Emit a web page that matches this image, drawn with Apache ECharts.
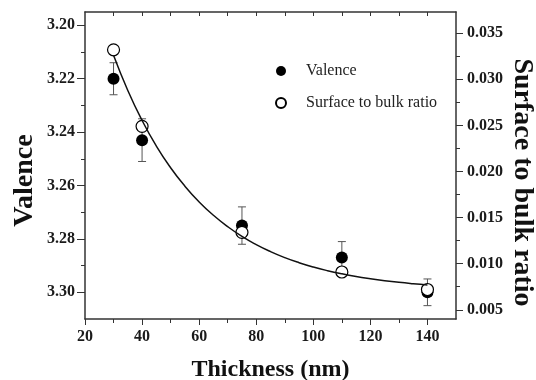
<!DOCTYPE html>
<html>
<head>
<meta charset="utf-8">
<script src="https://cdn.jsdelivr.net/npm/echarts@6/dist/echarts.min.js"></script>
<style>
  html, body { margin: 0; padding: 0; background: #fff; }
  #main { width: 536px; height: 380px; }
</style>
</head>
<body>
<div id="main"></div>
<script>
// data
var thickness = [30, 40, 75, 110, 140];
var valence = [3.220, 3.243, 3.275, 3.287, 3.300];
var valenceErr = [0.006, 0.008, 0.007, 0.006, 0.005];
var ratio = [0.0332, 0.0249, 0.0134, 0.0091, 0.0072];

// fitted curve, sampled along the drawn line
var fitX = [30, 35, 40, 45, 50, 55, 60, 65, 70, 75, 80, 85, 90, 95, 100, 105, 110, 115, 120, 125, 130, 135, 140];
var fitRatio = [0.03260, 0.02878, 0.02553, 0.02276, 0.02041, 0.01841, 0.01670, 0.01525, 0.01402, 0.01296,
                0.01207, 0.01131, 0.01066, 0.01011, 0.00964, 0.00924, 0.00890, 0.00861, 0.00837, 0.00816,
                0.00798, 0.00783, 0.00770];

// tick labels
var valenceTicks = [3.20, 3.22, 3.24, 3.26, 3.28, 3.30];
var valenceMinor = [3.21, 3.23, 3.25, 3.27, 3.29];
var ratioTicks = [0.005, 0.010, 0.015, 0.020, 0.025, 0.030, 0.035];
var ratioMinor = [0.0075, 0.0125, 0.0175, 0.0225, 0.0275, 0.0325];
var thicknessTicks = [20, 40, 60, 80, 100, 120, 140];
var thicknessMinor = [30, 50, 70, 90, 110, 130];
var topTicks = [30, 40, 50, 60, 70, 80, 90, 100, 110, 120, 130, 140];

var serif = 'Liberation Serif';
var lineCol = '#333';

var chart = echarts.init(document.getElementById('main'));

function zip(a, b) {
    return a.map(function (v, i) { return [v, b[i]]; });
}

var tickLabel = {
    fontFamily: serif, fontWeight: 'bold', fontSize: 16, color: '#1a1a1a'
};
function nameStyle(size, pad) {
    return { fontFamily: serif, fontWeight: 'bold', fontSize: size, color: '#111', padding: pad };
}

var option = {
    backgroundColor: '#fff',
    animation: false,
    grid: { left: 85, top: 12, right: 80, bottom: 61, containLabel: false, outerBoundsMode: 'none' },
    legend: {
        orient: 'vertical',
        left: 270,
        top: 58,
        itemWidth: 10,
        itemHeight: 10,
        itemGap: 16,
        selectedMode: false,
        data: [
            { name: 'Valence', icon: 'circle' },
            { name: 'Surface to bulk ratio', icon: 'circle' }
        ],
        textStyle: { fontFamily: serif, fontSize: 16, color: '#222', padding: [0, 0, 0, 15] }
    },
    xAxis: [
        {
            type: 'value', position: 'bottom', min: 20, max: 150,
            name: 'Thickness (nm)', nameLocation: 'middle', nameGap: 39, nameMoveOverlap: false,
            nameTextStyle: nameStyle(24, 0),
            axisLine: { show: true, lineStyle: { color: lineCol, width: 1.5 } },
            axisTick: { show: true, customValues: thicknessTicks, length: 6, lineStyle: { color: lineCol } },
            axisLabel: Object.assign({ customValues: thicknessTicks, margin: 10 }, tickLabel),
            splitLine: { show: false }
        },
        {
            type: 'value', position: 'bottom', min: 20, max: 150,
            axisLine: { show: false },
            axisTick: { show: true, customValues: thicknessMinor, length: 4, lineStyle: { color: lineCol } },
            axisLabel: { show: false },
            splitLine: { show: false }
        },
        {
            type: 'value', position: 'top', min: 20, max: 150,
            axisLine: { show: true, lineStyle: { color: lineCol, width: 1.5 } },
            axisTick: { show: true, inside: true, customValues: topTicks, length: 4, lineStyle: { color: lineCol } },
            axisLabel: { show: false },
            splitLine: { show: false }
        }
    ],
    yAxis: [
        {
            type: 'value', position: 'left', inverse: true, min: 3.195, max: 3.31,
            name: 'Valence', nameLocation: 'middle', nameGap: 46, nameRotate: 90, nameMoveOverlap: false,
            nameTextStyle: nameStyle(28, [0, 30, 0, 0]),
            axisLine: { show: true, lineStyle: { color: lineCol, width: 1.5 } },
            axisTick: { show: true, customValues: valenceTicks, length: 8, lineStyle: { color: lineCol } },
            axisLabel: Object.assign({
                customValues: valenceTicks, margin: 10,
                formatter: function (v) { return v.toFixed(2); }
            }, tickLabel),
            splitLine: { show: false }
        },
        {
            type: 'value', position: 'left', inverse: true, min: 3.195, max: 3.31,
            axisLine: { show: false },
            axisTick: { show: true, customValues: valenceMinor, length: 4, lineStyle: { color: lineCol } },
            axisLabel: { show: false },
            splitLine: { show: false }
        },
        {
            type: 'value', position: 'right', min: 0.0040, max: 0.0373,
            name: 'Surface to bulk ratio', nameLocation: 'middle', nameGap: 52, nameRotate: -90, nameMoveOverlap: false,
            nameTextStyle: nameStyle(28, [0, 0, 0, 34]),
            axisLine: { show: true, lineStyle: { color: lineCol, width: 1.5 } },
            axisTick: { show: true, customValues: ratioTicks, length: 7, lineStyle: { color: lineCol } },
            axisLabel: Object.assign({
                customValues: ratioTicks, margin: 11,
                formatter: function (v) { return v.toFixed(3); }
            }, tickLabel),
            splitLine: { show: false }
        },
        {
            type: 'value', position: 'right', min: 0.0040, max: 0.0373,
            axisLine: { show: false },
            axisTick: { show: true, customValues: ratioMinor, length: 4, lineStyle: { color: lineCol } },
            axisLabel: { show: false },
            splitLine: { show: false }
        }
    ],
    series: [
        {
            // error bars on valence
            type: 'custom',
            name: 'err',
            xAxisIndex: 0,
            yAxisIndex: 0,
            z: 1,
            data: thickness.map(function (x, i) { return [x, valence[i], valenceErr[i]]; }),
            encode: { x: 0, y: 1 },
            renderItem: function (params, api) {
                var x = api.value(0), y = api.value(1), e = api.value(2);
                var a = api.coord([x, y - e]);
                var b = api.coord([x, y + e]);
                var w = 4;
                var st = { stroke: '#555', lineWidth: 1 };
                return {
                    type: 'group',
                    children: [
                        { type: 'line', shape: { x1: a[0], y1: a[1], x2: b[0], y2: b[1] }, style: st },
                        { type: 'line', shape: { x1: a[0] - w, y1: a[1], x2: a[0] + w, y2: a[1] }, style: st },
                        { type: 'line', shape: { x1: b[0] - w, y1: b[1], x2: b[0] + w, y2: b[1] }, style: st }
                    ]
                };
            }
        },
        {
            type: 'scatter',
            name: 'Valence',
            xAxisIndex: 0,
            yAxisIndex: 0,
            z: 2,
            symbol: 'circle',
            symbolSize: 12,
            itemStyle: { color: '#000', borderColor: '#000', borderWidth: 0, opacity: 1 },
            data: zip(thickness, valence)
        },
        {
            type: 'scatter',
            name: 'Surface to bulk ratio',
            xAxisIndex: 0,
            yAxisIndex: 2,
            z: 3,
            symbol: 'circle',
            symbolSize: 12,
            itemStyle: { color: '#fff', borderColor: '#000', borderWidth: 1.2, opacity: 1 },
            data: zip(thickness, ratio)
        },
        {
            type: 'line',
            name: 'fit',
            xAxisIndex: 0,
            yAxisIndex: 2,
            z: 4,
            smooth: true,
            showSymbol: false,
            symbol: 'none',
            lineStyle: { color: '#111', width: 1.5 },
            data: zip(fitX, fitRatio)
        }
    ]
};

chart.setOption(option);
</script>
</body>
</html>
